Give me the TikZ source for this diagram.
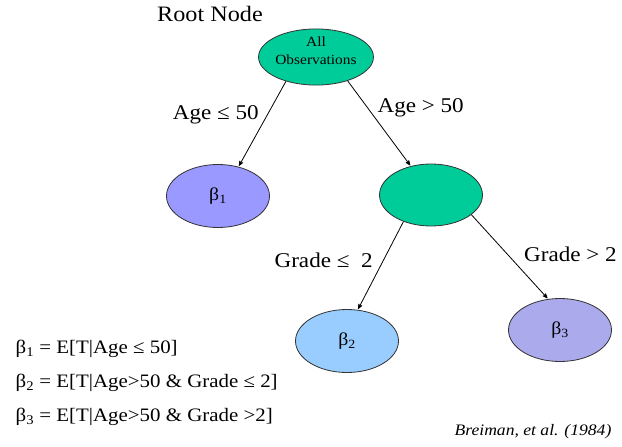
\documentclass[tikz,border=0pt]{standalone}
\usepackage{fontspec}
\setmainfont[FakeStretch=1.1]{Liberation Serif}
\usetikzlibrary{arrows,shapes.geometric,positioning}

\definecolor{splitgreen}{RGB}{0,204,153}
\definecolor{leafA}{RGB}{153,153,255}
\definecolor{leafB}{RGB}{153,204,255}
\definecolor{leafC}{RGB}{170,170,236}

\begin{document}
\begin{tikzpicture}[->,>=stealth',shorten >=1pt,line width=0.8pt,on grid,
    split/.style={ellipse,draw=black!80,fill=splitgreen,minimum width=103pt,minimum height=62pt,inner sep=0pt},
    leaf/.style={ellipse,draw=black!80,minimum width=103pt,minimum height=63pt,inner sep=0pt,font=\fontsize{18}{20}\selectfont},
    edgelbl/.style={font=\fontsize{21}{24}\selectfont},
    eqn/.style={anchor=west,font=\fontsize{19}{21}\selectfont}]
  \useasboundingbox (0,0) rectangle (622pt,-447pt);

  \node[split,minimum width=107pt,minimum height=52pt,align=center,font=\fontsize{14}{18}\selectfont] (root) at (316pt,-57pt) {All\\Observations\\[-6pt]};
  \node[font=\fontsize{22}{24}\selectfont] (rootlbl) [above left=43pt and 106pt of root] {Root Node};
  \node[split] (mid) [below right=138pt and 115pt of root] {};
  \node[leaf,fill=leafA] (b1) [below left=139pt and 98pt of root] {β\textsubscript{1}};
  \node[leaf,fill=leafB] (b2) [below left=146pt and 84pt of mid] {β\textsubscript{2}};
  \node[leaf,fill=leafC] (b3) [below right=135pt and 129pt of mid] {β\textsubscript{3}};

  \path
(root.219) edge node[edgelbl,left=5pt,pos=.39] {Age ≤ 50} (b1.55)
(root.323) edge node[edgelbl,right=6pt,pos=.32] {Age > 50} (mid.125)
(mid.224)  edge node[edgelbl,left=7pt,pos=.44] {Grade ≤\ \ 2} (b2.71)
(mid.334)  edge node[edgelbl,right=13pt,pos=.47] {Grade > 2} (b3.111)
;

  \node[eqn] (eq1) at (12pt,-349pt) {β\textsubscript{1} = E[T|Age ≤ 50]};
  \node[eqn] (eq2) at (12pt,-383pt) {β\textsubscript{2} = E[T|Age>50 \& Grade ≤ 2]};
  \node[eqn] (eq3) at (12pt,-417pt) {β\textsubscript{3} = E[T|Age>50 \& Grade >2]};
  \node[font=\fontsize{16}{18}\selectfont\itshape] (cite) at (533pt,-432pt) {Breiman, et al. (1984)};
\end{tikzpicture}
\end{document}
